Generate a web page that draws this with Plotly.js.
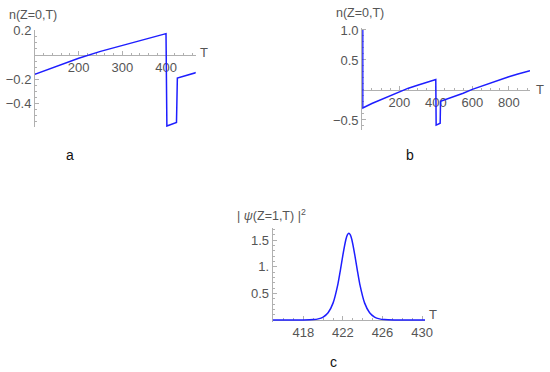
<!DOCTYPE html>
<html>
<head>
<meta charset="utf-8">
<script src="https://cdn.plot.ly/plotly-3.0.1.min.js"></script>
<style>html,body{margin:0;padding:0;background:#fff;}#chart{width:550px;height:372px;}</style>
</head>
<body>
<div id="chart"></div>
<script>
// n(Z=0,T) — shared by panels a and b
const nT = [0, 0, 50, 100, 150, 200, 250, 300, 350, 400, 402, 424, 426, 450, 500, 550, 600, 650, 700, 750, 800, 850, 900, 916];
const nVal = [1.0, -0.30, -0.225, -0.16, -0.093, -0.027, 0.03, 0.08, 0.129, 0.176, -0.585, -0.555, -0.19, -0.165, -0.11, -0.055, 0.01, 0.065, 0.12, 0.17, 0.22, 0.265, 0.31, 0.323];

// |psi(Z=1,T)|^2 — panel c
const psiT = [414.9, 416, 417, 418, 419, 419.5, 420, 420.5, 421, 421.5, 421.75, 422, 422.3, 422.45, 422.6, 422.75, 422.9, 423.2, 423.45, 423.7, 424.2, 424.7, 425.2, 425.7, 426.2, 427.2, 428, 429, 430.3];
const psiVal = [0, 0, 0.0003, 0.0015, 0.0094, 0.023, 0.057, 0.137, 0.318, 0.68, 0.941, 1.224, 1.51, 1.595, 1.625, 1.595, 1.51, 1.224, 0.941, 0.68, 0.318, 0.137, 0.057, 0.023, 0.0094, 0.0015, 0.0003, 0, 0];

// tick labels
const aXTicks = [200, 300, 400];
const aYTicks = [0.2, -0.2, -0.4];
const aYText = ["0.2", "\u22120.2", "\u22120.4"];
const bXTicks = [200, 400, 600, 800];
const bYTicks = [1.0, 0.5, -0.5];
const bYText = ["1.0", "0.5", "\u22120.5"];
const cXTicks = [418, 422, 426, 430];
const cYTicks = [0.5, 1.0, 1.5];
const cYText = ["0.5", "1.", "1.5"];

const W = 550, H = 372;
const blue = 'rgb(30,30,255)';
const axisCol = '#b0b0b0';
const txtCol = '#555555';
const font = {family: 'Liberation Sans, Arial, sans-serif', size: 13, color: txtCol};
const titleFont = {family: 'Liberation Sans, Arial, sans-serif', size: 12.5, color: txtCol};

function px(x){ return x / W; }
function py(y){ return 1 - y / H; }
function zeroPos(dom, rng){ return dom[0] + (0 - rng[0]) / (rng[1] - rng[0]) * (dom[1] - dom[0]); }

const A = {xd: [px(35), px(195.7)], yd: [py(127), py(30)], xr: [100, 468], yr: [-0.593, 0.206]};
const B = {xd: [px(362.2), px(530)], yd: [py(130), py(28)], xr: [-3, 916], yr: [-0.667, 1.033]};
const C = {xd: [px(272.7), px(425)], yd: [py(321.7), py(228.3)], xr: [414.9, 430.3], yr: [-0.03, 1.72]};

function xax(P, tv, minorD){
  return {domain: P.xd, range: P.xr, anchor: 'free', position: zeroPos(P.yd, P.yr),
    tickmode: 'array', tickvals: tv, ticktext: tv.map(String), showgrid: false, zeroline: false,
    showline: true, linecolor: axisCol, linewidth: 1, ticks: 'inside', ticklen: 4, tickcolor: axisCol,
    minor: {dtick: minorD, ticks: 'inside', ticklen: 2, tickcolor: axisCol, showgrid: false},
    tickfont: font, fixedrange: true, layer: 'below traces'};
}
function yax(P, tv, tt, xname, minorD){
  return {domain: P.yd, range: P.yr, anchor: xname,
    tickmode: 'array', tickvals: tv, ticktext: tt, showgrid: false, zeroline: false,
    showline: true, linecolor: axisCol, linewidth: 1, ticks: 'inside', ticklen: 4, tickcolor: axisCol,
    minor: {dtick: minorD, ticks: 'inside', ticklen: 2, tickcolor: axisCol, showgrid: false},
    tickfont: font, fixedrange: true, layer: 'below traces'};
}

const traces = [
  {x: nT, y: nVal, xaxis: 'x', yaxis: 'y', mode: 'lines', line: {color: blue, width: 1.5}, hoverinfo: 'skip'},
  {x: nT, y: nVal, xaxis: 'x2', yaxis: 'y2', mode: 'lines', line: {color: blue, width: 1.5}, hoverinfo: 'skip'},
  {x: psiT, y: psiVal, xaxis: 'x3', yaxis: 'y3', mode: 'lines', line: {color: blue, width: 1.5, shape: 'spline', smoothing: 0.6}, hoverinfo: 'skip'}
];

function ann(text, x, y, xa, ya, f){
  return {text: text, x: px(x), y: py(y), xref: 'paper', yref: 'paper', xanchor: xa, yanchor: ya, showarrow: false, font: f || font, borderpad: 0};
}
const labFont = {family: 'Liberation Sans, Arial, sans-serif', size: 14, color: '#111111'};

const layout = {
  width: W, height: H, margin: {l: 0, r: 0, t: 0, b: 0},
  paper_bgcolor: '#ffffff', plot_bgcolor: 'rgba(0,0,0,0)', showlegend: false,
  xaxis: xax(A, aXTicks, 20),
  yaxis: yax(A, aYTicks, aYText, 'x', 0.05),
  xaxis2: xax(B, bXTicks, 50),
  yaxis2: yax(B, bYTicks, bYText, 'x2', 0.1),
  xaxis3: xax(C, cXTicks, 1),
  yaxis3: yax(C, cYTicks, cYText, 'x3', 0.1),
  annotations: [
    ann('n(Z=0,T)', 8, 15, 'left', 'middle', titleFont),
    ann('T', 204, 53, 'center', 'middle'),
    ann('n(Z=0,T)', 335, 13, 'left', 'middle', titleFont),
    ann('T', 540, 89, 'center', 'middle'),
    ann('| <i>\u03c8</i>(Z=1,T) |<sup>2</sup>', 236, 215, 'left', 'middle', titleFont),
    ann('T', 433, 314, 'center', 'middle'),
    ann('a', 70, 155, 'center', 'middle', labFont),
    ann('b', 410, 155, 'center', 'middle', labFont),
    ann('c', 333, 362, 'center', 'middle', labFont)
  ]
};

Plotly.newPlot('chart', traces, layout, {staticPlot: true, displayModeBar: false});
</script>
</body>
</html>
